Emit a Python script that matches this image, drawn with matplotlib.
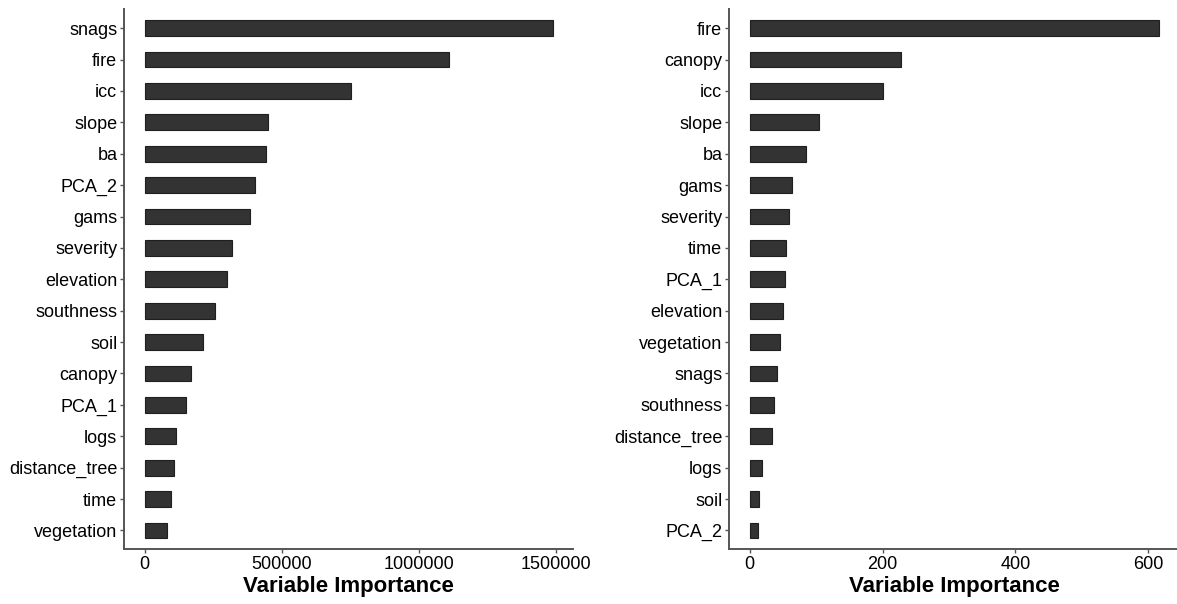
import numpy as np
import matplotlib.pyplot as plt

plt.rcParams['font.family'] = ['Liberation Sans', 'DejaVu Sans']

# variable importance, model 1 (sorted high -> low)
vars_a = ["snags", "fire", "icc", "slope", "ba", "PCA_2", "gams", "severity",
          "elevation", "southness", "soil", "canopy", "PCA_1", "logs",
          "distance_tree", "time", "vegetation"]
imp_a = [1486000, 1108000, 750000, 451000, 443000, 401000, 385000, 319000,
         300000, 256000, 211000, 167000, 149000, 112500, 107000, 97000, 80500]

# variable importance, model 2
vars_b = ["fire", "canopy", "icc", "slope", "ba", "gams", "severity", "time",
          "PCA_1", "elevation", "vegetation", "snags", "southness",
          "distance_tree", "logs", "soil", "PCA_2"]
imp_b = [616, 227, 200.6, 105, 84.5, 64, 59.7, 55, 53, 50, 45, 41, 36, 34,
         18.6, 13.5, 12.4]

ticks_a = [0, 500000, 1000000, 1500000]
ticks_b = [0, 200, 400, 600]

fig = plt.figure(figsize=(11.77, 6.04), dpi=100)
ax1 = fig.add_axes([0.1056, 0.0906, 0.3812, 0.894])
ax2 = fig.add_axes([0.6196, 0.0906, 0.3824, 0.894])


def imp_panel(ax, names, vals, ticks):
    n = len(names)
    ypos = np.arange(n)[::-1]
    ax.barh(ypos, vals, height=0.5, color='#333333', edgecolor='#1f1f1f',
            linewidth=0.8)
    ax.set_yticks(ypos)
    ax.set_yticklabels(names)
    ax.set_ylim(-0.6, n - 0.4)
    top = max(vals) * 1.05
    ax.set_xlim(-max(vals) * 0.05, top)
    ax.set_xticks(ticks)
    ax.set_xticklabels([str(t) for t in ticks])
    for s in ['top', 'right']:
        ax.spines[s].set_visible(False)
    for s in ['left', 'bottom']:
        ax.spines[s].set_color('#555555')
        ax.spines[s].set_linewidth(1.4)
    ax.tick_params(axis='both', length=3, width=1, color='#555555',
                   labelsize=13, labelcolor='black', pad=2)
    ax.set_xlabel('Variable Importance', fontsize=16, fontweight='bold',
                  labelpad=2)


imp_panel(ax1, vars_a, imp_a, ticks_a)
imp_panel(ax2, vars_b, imp_b, ticks_b)

fig.savefig('out.png', dpi=100)
